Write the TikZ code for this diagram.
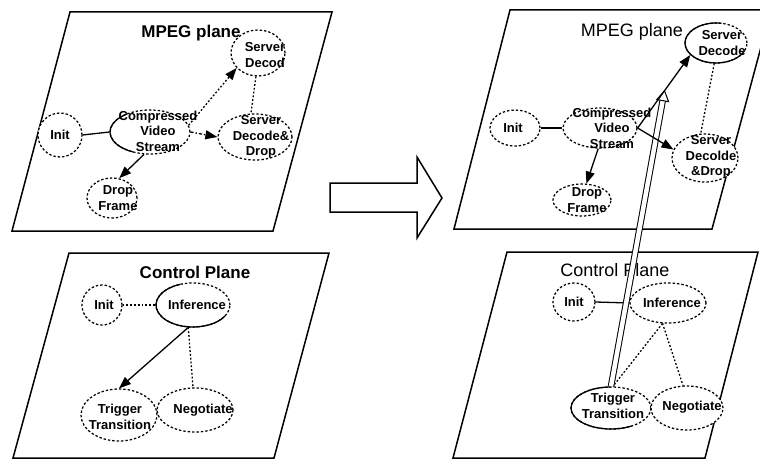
\documentclass[tikz,border=0pt]{standalone}
\usepackage{fontspec}
\setmainfont{Liberation Sans}
\usetikzlibrary{arrows.meta,calc,shapes.geometric}

\begin{document}
\begin{tikzpicture}[x=1pt,y=1pt,
  plane/.style={line width=1.5pt, line join=miter},
  st/.style={ellipse, draw, fill=white, inner sep=0pt, line width=1.25pt,
             dash pattern=on 2.4pt off 2pt},
  solidarc/.style={line width=1.3pt, solid},
  lbl/.style={align=center, inner sep=0pt, font=\fontsize{13}{15.5}\selectfont\bfseries},
  ttlb/.style={inner sep=0pt, font=\fontsize{17}{20}\selectfont\bfseries},
  ttl/.style={inner sep=0pt, font=\fontsize{18}{20}\selectfont},
  conn/.style={line width=1.3pt},
  dotl/.style={conn, dash pattern=on 1.8pt off 2pt},
  dashdot/.style={conn, dash pattern=on 3pt off 2pt on 1.4pt off 2pt},
  arr/.style={-{Triangle[length=12pt,width=9pt]}}
]
% canvas
\fill[white] (0,0) rectangle (760,-460);
\useasboundingbox (0,0) rectangle (760,-460);
\clip (0,0) rectangle (760,-460);

% the four planes
\draw[plane] (12,-231) -- (273,-231) -- (332,-12) -- (70,-12) -- cycle;
\draw[plane] (13,-458) -- (274,-458) -- (329,-253) -- (69,-253) -- cycle;
\draw[plane] (454,-229) -- (712,-229) -- (771,-10) -- (510,-10) -- cycle;
\draw[plane] (453,-458) -- (705,-458) -- (758,-252) -- (507,-252) -- cycle;

% block arrow between the two halves
\draw[plane] (330,-183) -- (417,-183) -- (417,-157) -- (442,-198)
  -- (417,-238) -- (417,-212) -- (330,-212) -- cycle;

% plane titles
\node[ttlb] (t1) at (191,-33) {MPEG plane};
\node[ttlb] (t2) at (195,-272) {Control Plane};
\node[ttl] (t3) at (632,-32) {MPEG plane};
\node[ttl] (t4) at (615,-270) {Control Plane};

% ---- left MPEG plane
\node[st, minimum width=44pt, minimum height=44pt] (i1) at (60,-135) {};
\node[st, minimum width=80pt, minimum height=44pt] (c1) at (150,-132) {};
\node[st, minimum width=54pt, minimum height=46pt] (sd1) at (258,-53) {};
\node[st, minimum width=74pt, minimum height=46pt] (sdd1) at (255,-137) {};
\node[st, minimum width=50pt, minimum height=40pt] (df1) at (112,-198) {};
\draw[solidarc] ($(c1.center)+(125:40pt and 22pt)$)
  arc[start angle=125, end angle=245, x radius=40pt, y radius=22pt];

\node[lbl] (i1t) at (60,-135) {Init};
\node[lbl] (c1t) at (158,-131) {Compressed\\Video\\Stream};
\node[lbl] (sd1t) at (265,-55) {Server\\Decod};
\node[lbl] (sdd1t) at (261,-137) {Server\\Decode\&\\Drop};
\node[lbl] (df1t) at (118,-198) {Drop\\Frame};

\draw[conn] (i1.east) -- (c1.west);
\draw[dotl, arr] (c1.10) -- (sd1.215);
\draw[dashdot, arr] (c1.east) -- (sdd1.west);
\draw[dotl] (sd1.265) -- (sdd1.100);
\draw[conn, arr] (c1.255) -- (df1.70);

% ---- left control plane
\node[st, minimum width=40pt, minimum height=40pt] (i2) at (102,-305) {};
\node[st, minimum width=74pt, minimum height=44pt] (inf2) at (193,-305) {};
\node[st, minimum width=76pt, minimum height=52pt] (tt2) at (119,-415) {};
\node[st, minimum width=76pt, minimum height=44pt] (ng2) at (195,-410) {};
\draw[solidarc] ($(inf2.center)+(110:37pt and 22pt)$)
  arc[start angle=110, end angle=330, x radius=37pt, y radius=22pt];

\node[lbl] (i2t) at (104,-305) {Init};
\node[lbl] (inf2t) at (197,-305) {Inference};
\node[lbl] (tt2t) at (120,-417) {Trigger\\Transition};
\node[lbl] (ng2t) at (203,-410) {Negotiate};

\draw[dotl] (i2.east) -- (inf2.west);
\draw[conn, arr] (inf2.258) -- (tt2.north);
\draw[dotl] (inf2.258) -- (ng2.95);

% ---- right MPEG plane
\node[st, minimum width=50pt, minimum height=36pt] (i3) at (515,-128) {};
\node[st, minimum width=74pt, minimum height=40pt] (c3) at (600,-128) {};
\node[st, minimum width=62pt, minimum height=40pt] (sd3) at (716,-43) {};
\node[st, minimum width=66pt, minimum height=48pt] (sdd3) at (705,-158) {};
\node[st, minimum width=58pt, minimum height=32pt] (df3) at (582,-200) {};
\draw[solidarc] ($(sd3.center)+(80:31pt and 20pt)$)
  arc[start angle=80, end angle=330, x radius=31pt, y radius=20pt];

\node[lbl] (i3t) at (513,-128) {Init};
\node[lbl] (c3t) at (612,-128) {Compressed\\Video\\Stream};
\node[lbl] (sd3t) at (722,-43) {Server\\Decode};
\node[lbl] (sdd3t) at (711,-157) {Server\\Decolde\\\&Drop};
\node[lbl] (df3t) at (587,-200) {Drop\\Frame};

\draw[conn] (i3.east) -- (c3.west);
\draw[dotl] (sd3.265) -- (sdd3.100);
\draw[conn, arr] (c3.265) -- (df3.75);

% ---- right control plane
\node[st, minimum width=42pt, minimum height=38pt] (i4) at (574,-302) {};
\node[st, minimum width=76pt, minimum height=40pt] (inf4) at (668,-303) {};
\node[st, minimum width=80pt, minimum height=42pt] (tt4) at (611,-408) {};
\node[st, minimum width=72pt, minimum height=44pt] (ng4) at (687,-408) {};
\draw[solidarc] ($(tt4.center)+(90:40pt and 21pt)$)
  arc[start angle=90, end angle=300, x radius=40pt, y radius=21pt];

\node[lbl] (i4t) at (574,-302) {Init};
\node[lbl] (inf4t) at (672,-303) {Inference};
\node[lbl] (tt4t) at (613,-406) {Trigger\\Transition};
\node[lbl] (ng4t) at (692,-407) {Negotiate};

\draw[conn] (i4.east) -- (inf4.west);
\draw[dotl] (inf4.255) -- (tt4.85);
\draw[dotl] (inf4.255) -- (ng4.100);

% hollow double arrow from the control plane up into the MPEG plane
\coordinate (ht) at ($(c3.east)!0.51!(sd3.205)$);
\coordinate (hb) at ($(ht)!10pt!(tt4.north)$);
\draw[line width=1pt, double distance=4.5pt] (tt4.north) -- (hb);
\draw[line width=1pt, fill=white, line join=miter]
  (ht) -- ($(hb)!6pt!90:(ht)$) -- ($(hb)!6pt!-90:(ht)$) -- cycle;

\draw[conn, arr] (c3.east) -- (sd3.205);
\draw[conn, arr] (c3.east) -- (sdd3.165);
\end{tikzpicture}
\end{document}
